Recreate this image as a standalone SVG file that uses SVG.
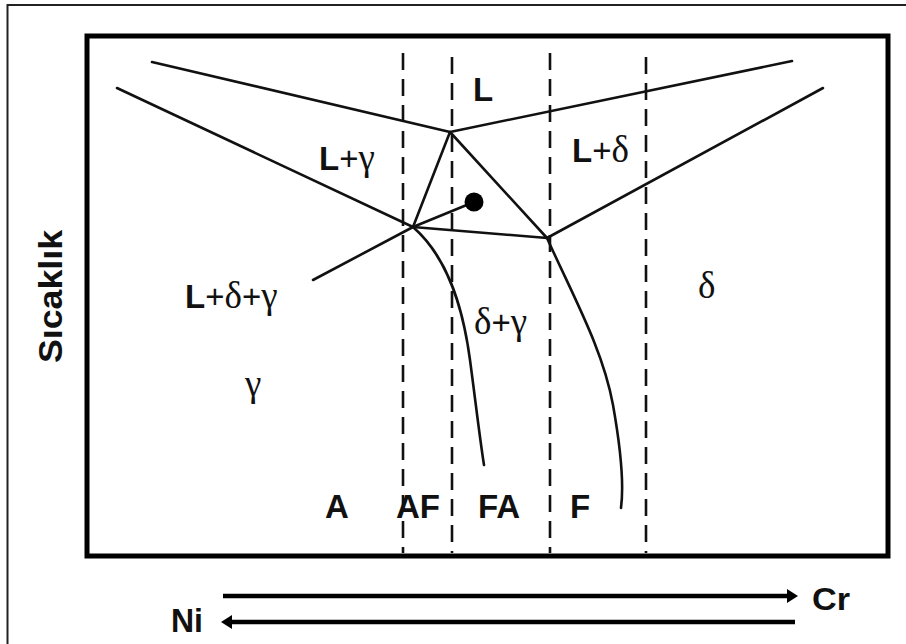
<svg xmlns="http://www.w3.org/2000/svg" width="906" height="644" viewBox="0 0 906 644">
<style>
.frame{fill:none;stroke:#222;stroke-width:2}
.box{fill:none;stroke:#000;stroke-width:5}
.ph{fill:none;stroke:#111;stroke-width:2.6;stroke-linejoin:round;stroke-linecap:round}
.dash{fill:none;stroke:#111;stroke-width:2.6;stroke-dasharray:17 9}
.arr{fill:none;stroke:#000;stroke-width:4.5}
.lbl{font-family:"Liberation Sans",Arial,sans-serif;font-size:33px;fill:#111}
.b{font-weight:bold}
.g{font-family:"Liberation Serif","Times New Roman",serif;font-size:37px}
.ax{font-family:"Liberation Sans",Arial,sans-serif;font-weight:bold;fill:#111}
</style>
<defs>
<marker id="ah" markerUnits="userSpaceOnUse" markerWidth="12" markerHeight="14" refX="1" refY="7" orient="auto">
<path d="M0,0 L11,7 L0,14 z" fill="#000"/>
</marker>
</defs>
<rect width="906" height="644" fill="#fff"/>
<rect class="frame" x="7.5" y="5" width="905" height="645"/>
<rect class="box" x="87" y="36" width="801" height="520"/>

<g id="connectors">
<line class="dash" x1="403" y1="53" x2="403" y2="553"/>
<line class="dash" x1="452" y1="57" x2="452" y2="553"/>
<line class="dash" x1="550" y1="53" x2="550" y2="553"/>
<line class="dash" x1="646" y1="57" x2="646" y2="553"/>
<polyline class="ph" points="152,62 450,132 792,61"/>
<line class="ph" x1="117" y1="88" x2="413" y2="227"/>
<line class="ph" x1="547" y1="238" x2="823" y2="88"/>
<polygon class="ph" points="450,132 413,227 547,238"/>
<polyline class="ph" points="313,280 413,227 474,202"/>
<path class="ph" d="M413,227 C445,255 462,300 470,360 C476,405 480,440 484,465"/>
<path class="ph" d="M547,238 C575,300 603,350 613,405 C621,450 624,485 621,508"/>
<line class="arr" x1="223" y1="596" x2="788" y2="596" marker-end="url(#ah)"/>
<line class="arr" x1="795" y1="622" x2="231" y2="622" marker-end="url(#ah)"/>
</g>

<g id="dot"><circle cx="474" cy="202" r="9.5" fill="#000"/></g>

<g id="label-L"><text class="lbl b" x="473" y="101">L</text></g>
<g id="label-Lg"><text class="lbl" x="319" y="170"><tspan class="b">L</tspan>+<tspan class="g">γ</tspan></text></g>
<g id="label-Ld"><text class="lbl" x="572" y="162"><tspan class="b">L</tspan>+<tspan class="g">δ</tspan></text></g>
<g id="label-Ldg"><text class="lbl" x="185" y="308"><tspan class="b">L</tspan>+<tspan class="g">δ</tspan>+<tspan class="g">γ</tspan></text></g>
<g id="label-dg"><text class="lbl" x="474" y="334"><tspan class="g">δ</tspan>+<tspan class="g">γ</tspan></text></g>
<g id="label-g"><text class="lbl g" x="245" y="396">γ</text></g>
<g id="label-d"><text class="lbl g" x="698" y="298">δ</text></g>
<g id="label-A"><text class="lbl b" x="325" y="518">A</text></g>
<g id="label-AF"><text class="lbl b" x="396" y="518">AF</text></g>
<g id="label-FA"><text class="lbl b" x="478" y="518">FA</text></g>
<g id="label-F"><text class="lbl b" x="570" y="518">F</text></g>
<g id="label-Cr"><text class="ax" x="812" y="610" font-size="32" textLength="38" lengthAdjust="spacingAndGlyphs">Cr</text></g>
<g id="label-Ni"><text class="ax" x="171" y="632" font-size="33" textLength="32" lengthAdjust="spacingAndGlyphs">Ni</text></g>
<g id="label-axis"><text class="ax" font-size="34" transform="translate(62,363) rotate(-90)" textLength="133" lengthAdjust="spacingAndGlyphs">Sıcaklık</text></g>
</svg>
